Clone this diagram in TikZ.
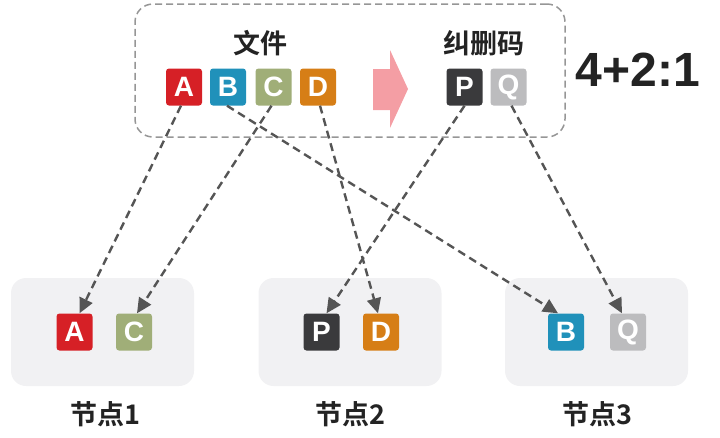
\documentclass[tikz,border=0pt]{standalone}
\usepackage{fontspec}
\setmainfont{Liberation Sans}
\newfontfamily\cjkfont{Noto Sans CJK SC}[BoldFont={Noto Sans CJK SC Bold}]
\usetikzlibrary{arrows.meta}
\definecolor{blockA}{RGB}{214,32,38}
\definecolor{blockB}{RGB}{32,145,186}
\definecolor{blockC}{RGB}{160,174,120}
\definecolor{blockD}{RGB}{214,126,22}
\definecolor{blockP}{RGB}{58,58,60}
\definecolor{blockQ}{RGB}{188,188,190}
\definecolor{linkgrey}{RGB}{85,85,85}
\definecolor{framegrey}{RGB}{150,150,150}
\definecolor{nodefill}{RGB}{241,241,243}
\definecolor{arrowpink}{RGB}{244,158,164}
\definecolor{textdark}{RGB}{35,35,35}

\begin{document}
\begin{tikzpicture}[
    x=1pt,
    y=-1pt,
    data block/.style={
      rounded corners=3pt,
      minimum width=36pt,
      minimum height=37pt,
      inner sep=0pt,
      text=white,
      font=\fontsize{28}{28}\selectfont\bfseries
    },
    storage box/.style={
      fill=nodefill,
      rounded corners=15pt,
      minimum width=183pt,
      minimum height=108pt
    },
    cjk label/.style={
      text=textdark,
      inner sep=0pt,
      font=\cjkfont\bfseries\fontsize{27}{27}\selectfont
    },
    placement/.style={
      linkgrey,
      line width=2.4pt,
      dash pattern=on 8pt off 5pt,
      -{Triangle[length=15pt,width=14pt]}
    }
]
\useasboundingbox (0,0) rectangle (720,437);

% Storage nodes at the bottom.
\node[storage box] (node1) at (102.5,332) {};
\node[storage box] (node2) at (350,332) {};
\node[storage box] (node3) at (596.5,332) {};
\node[cjk label] (node1 label) at (105,414) {节点1};
\node[cjk label] (node2 label) at (350,414) {节点2};
\node[cjk label] (node3 label) at (597,414) {节点3};

% File and erasure code group.
\node[
  draw=framegrey,
  line width=1.5pt,
  dash pattern=on 7pt off 4pt,
  rounded corners=18pt,
  minimum width=430pt,
  minimum height=133pt
] (group) at (350,70.5) {};
\node[cjk label] (file) at (260,43) {文件};
\node[cjk label] (parity) at (484,43) {纠删码};
\foreach \lab/\x in {A/184,B/228,C/273.5,D/318,P/464.5,Q/508.5}
  \node[data block,fill=block\lab] (t\lab) at (\x,87) {\lab};
\fill[arrowpink] (373,69) -- (390,69) -- (390,50) -- (408,89)
  -- (390,128) -- (390,110) -- (373,110) -- cycle;

\node[
  text=textdark,
  inner sep=0pt,
  font=\fontsize{48}{48}\selectfont\bfseries
] (ratio) at (638,70) {4+2:1};

% Blocks after placement.
\foreach \lab/\x in {A/74.5,C/134,P/321.5,D/381,B/566,Q/628}
  \node[data block,fill=block\lab] (b\lab) at (\x,332) {\lab};

\draw[placement] ([xshift=-3pt]tA.south) -- ([xshift=5pt]bA.north);
\draw[placement] ([xshift=-2pt]tC.south) -- ([xshift=3pt]bC.north);
\draw[placement] ([xshift=2pt]tD.south) -- ([xshift=-3pt]bD.north);
\draw[placement] (tP.south) -- ([xshift=5pt]bP.north);
\draw[placement] ([xshift=-1pt]tB.south) -- ([xshift=-8pt]bB.north);
\draw[placement] ([xshift=3pt]tQ.south) -- ([xshift=-6pt]bQ.north);

\end{tikzpicture}
\end{document}
